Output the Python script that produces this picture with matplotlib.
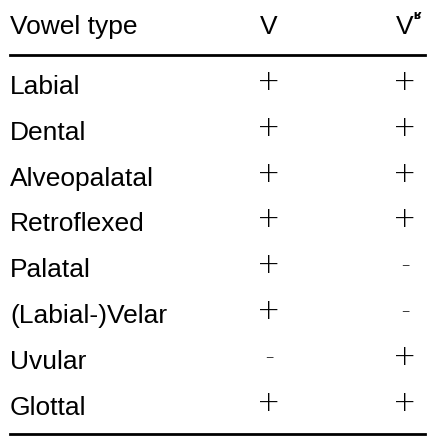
import matplotlib
matplotlib.use("Agg")
import matplotlib.pyplot as plt

header = ["Vowel type", "V", "V"]
rows = ["Labial", "Dental", "Alveopalatal", "Retroflexed", "Palatal", "(Labial-)Velar", "Uvular", "Glottal"]
col_v = ["+", "+", "+", "+", "+", "+", "–", "+"]
col_vr = ["+", "+", "+", "+", "–", "–", "+", "+"]

fam = ["Liberation Sans", "DejaVu Sans"]
fig = plt.figure(figsize=(4.36, 4.36), dpi=100)
ax = fig.add_axes([0, 0, 1, 1])
ax.set_xlim(0, 436); ax.set_ylim(436, 0); ax.axis("off")

fs = 19
x0, xv, xr = 10, 269, 405
ax.text(x0, 34, header[0], fontsize=fs, family=fam, va="baseline", ha="left")
ax.text(xv, 34, header[1], fontsize=fs, family=fam, va="baseline", ha="center")
ax.text(xr, 34, header[2], fontsize=fs, family=fam, va="baseline", ha="center")
ax.text(xr + 8, 19, "ʁ", fontsize=9, family=["DejaVu Sans"], va="baseline", ha="left", weight="bold")
ax.plot([10, 425], [55, 55], color="black", lw=2)
ax.plot([10, 425], [434, 434], color="black", lw=2)
for i, (r, a, b) in enumerate(zip(rows, col_v, col_vr)):
    y = 82 + i * 45.8
    ax.text(x0, y + 12, r, fontsize=fs, family=fam, va="baseline", ha="left")
    for x, s in ((xv, a), (xr, b)):
        ax.text(x, y, s, fontsize=20 if s == "+" else 12, family=["DejaVu Sans"], weight="light",
                va="center", ha="center")
fig.savefig("out.png", dpi=100)
